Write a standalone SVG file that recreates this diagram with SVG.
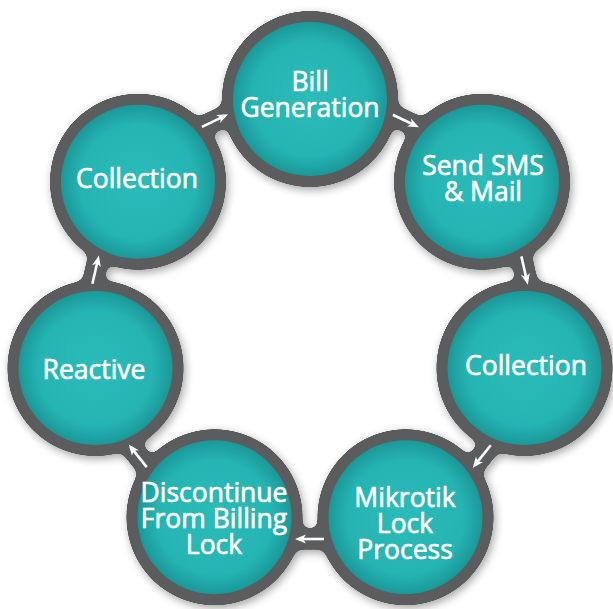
<svg xmlns="http://www.w3.org/2000/svg" width="613" height="609" viewBox="0 0 613 609">
<defs>
<style>
.rim{fill:#5b5c5e}
.band{fill:none;stroke:#5b5c5e;stroke-width:21}
.disc{fill:url(#teal)}
.lbl{font-family:"Open Sans","Noto Sans","Liberation Sans",sans-serif;font-weight:400;font-size:26.5px;fill:#fff;stroke:#fff;stroke-width:0.65px;text-anchor:middle}
.arrow{stroke:#fff;stroke-width:2.6;fill:none;marker-end:url(#ah)}
</style>
<radialGradient id="teal" cx="50%" cy="50%" r="50%">
<stop offset="0" stop-color="#2bbbb9"/>
<stop offset="0.75" stop-color="#25b4b2"/>
<stop offset="1" stop-color="#1b9899"/>
</radialGradient>
<marker id="ah" markerUnits="userSpaceOnUse" markerWidth="12" markerHeight="12" viewBox="0 0 12 12" refX="4" refY="6" orient="auto">
<path d="M0,1.5 L11,6 L0,10.5 L3,6 z" fill="#fff"/>
</marker>
<filter id="goo" x="-5%" y="-5%" width="110%" height="110%" color-interpolation-filters="sRGB">
<feGaussianBlur in="SourceGraphic" stdDeviation="4.5" result="b"/>
<feColorMatrix in="b" type="matrix" values="1 0 0 0 0 0 1 0 0 0 0 0 1 0 0 0 0 0 24 -11" result="g"/>
<feGaussianBlur in="g" stdDeviation="4" result="sb"/>
<feOffset in="sb" dx="2" dy="3" result="so"/>
<feFlood flood-color="#000" flood-opacity="0.35"/>
<feComposite in2="so" operator="in" result="shadow"/>
<feMerge><feMergeNode in="shadow"/><feMergeNode in="g"/></feMerge>
</filter>
</defs>
<rect width="613" height="609" fill="#fff"/>
<g id="frame" filter="url(#goo)">
<circle class="band" cx="310" cy="319" r="220"/>
<circle class="rim" cx="310" cy="99" r="88"/>
<circle class="rim" cx="482" cy="181.8" r="88"/>
<circle class="rim" cx="524.5" cy="368" r="88"/>
<circle class="rim" cx="405.5" cy="517.2" r="88"/>
<circle class="rim" cx="214.5" cy="517.2" r="88"/>
<circle class="rim" cx="95.5" cy="368" r="88"/>
<circle class="rim" cx="138" cy="181.8" r="88"/>
</g>
<g id="connectors">
<line class="arrow" x1="530" y1="305" x2="530" y2="327" transform="rotate(-64.29 310 319)"/>
<line class="arrow" x1="530" y1="305" x2="530" y2="327" transform="rotate(-12.86 310 319)"/>
<line class="arrow" x1="530" y1="305" x2="530" y2="327" transform="rotate(38.57 310 319)"/>
<line class="arrow" x1="530" y1="305" x2="530" y2="327" transform="rotate(90 310 319)"/>
<line class="arrow" x1="530" y1="305" x2="530" y2="327" transform="rotate(141.43 310 319)"/>
<line class="arrow" x1="530" y1="305" x2="530" y2="327" transform="rotate(192.86 310 319)"/>
<line class="arrow" x1="530" y1="305" x2="530" y2="327" transform="rotate(244.29 310 319)"/>
</g>
<g id="node-bill">
<circle class="disc" cx="310" cy="99" r="77"/>
<text class="lbl" x="310" y="91">Bill</text>
<text class="lbl" x="310" y="117">Generation</text>
</g>
<g id="node-sms">
<circle class="disc" cx="482" cy="181.8" r="77"/>
<text class="lbl" x="483" y="175">Send SMS</text>
<text class="lbl" x="483" y="201">&amp; Mail</text>
</g>
<g id="node-collection-right">
<circle class="disc" cx="524.5" cy="368" r="77"/>
<text class="lbl" x="526" y="375">Collection</text>
</g>
<g id="node-mikrotik">
<circle class="disc" cx="405.5" cy="517.2" r="77"/>
<text class="lbl" x="405" y="507">Mikrotik</text>
<text class="lbl" x="405" y="533">Lock</text>
<text class="lbl" x="405" y="559">Process</text>
</g>
<g id="node-discontinue">
<circle class="disc" cx="214.5" cy="517.2" r="77"/>
<text class="lbl" x="214" y="502">Discontinue</text>
<text class="lbl" x="214" y="528">From Billing</text>
<text class="lbl" x="214" y="554">Lock</text>
</g>
<g id="node-reactive">
<circle class="disc" cx="95.5" cy="368" r="77"/>
<text class="lbl" x="94" y="379">Reactive</text>
</g>
<g id="node-collection-left">
<circle class="disc" cx="138" cy="181.8" r="77"/>
<text class="lbl" x="137" y="188">Collection</text>
</g>
</svg>
